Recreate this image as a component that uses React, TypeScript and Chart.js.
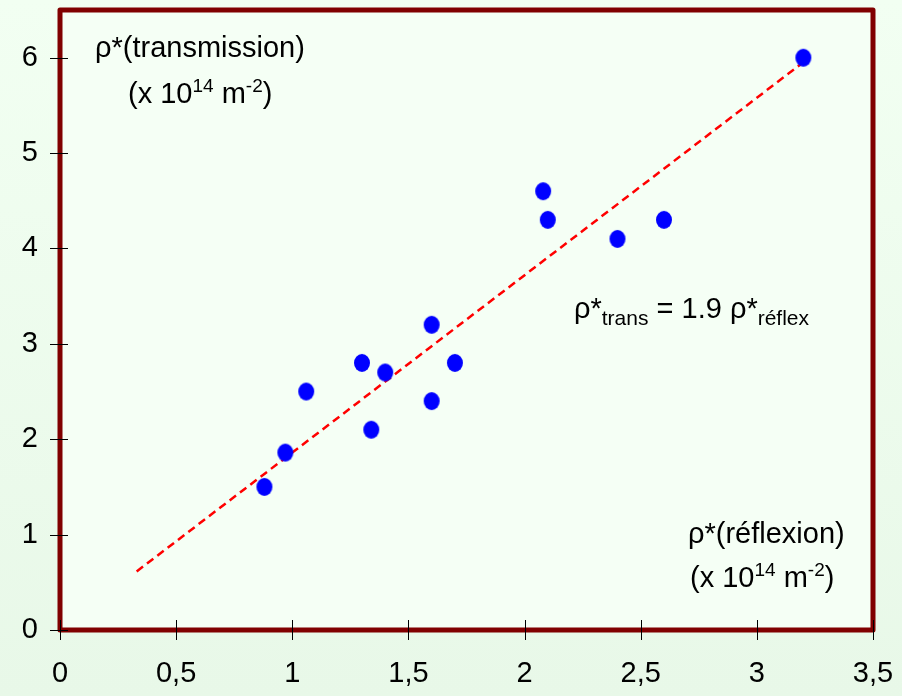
import React, { useEffect, useRef } from "react";
import { Chart, registerables } from "chart.js";

Chart.register(...registerables);

// Dislocation density: reflection (x) vs transmission (y), units 1e14 m^-2
const reflexion = [0.88, 0.97, 1.06, 1.3, 1.34, 1.4, 1.6, 1.6, 1.7, 2.08, 2.1, 2.4, 2.6, 3.2];
const transmission = [1.5, 1.86, 2.5, 2.8, 2.1, 2.7, 3.2, 2.4, 2.8, 4.6, 4.3, 4.1, 4.3, 6.0];

// Fitted proportional line y = slope * x, drawn across this x range
const fitSlope = 1.86;
const fitRange = [0.33, 3.2];

const xTicks = [0, 0.5, 1, 1.5, 2, 2.5, 3, 3.5];
const yTicks = [0, 1, 2, 3, 4, 5, 6];

const FONT = '"Liberation Sans", Arial, sans-serif';

type Run = { t: string; size: number; dy?: number };

function drawRuns(ctx: CanvasRenderingContext2D, runs: Run[], x: number, y: number) {
  let cx = x;
  for (const r of runs) {
    ctx.font = `${r.size}px ${FONT}`;
    ctx.fillText(r.t, cx, y + (r.dy || 0));
    cx += ctx.measureText(r.t).width;
  }
}

// slightly tall oval marker
function makeMarker(): HTMLCanvasElement {
  const c = document.createElement("canvas");
  c.width = 18;
  c.height = 20;
  const g = c.getContext("2d")!;
  g.fillStyle = "#0000ff";
  g.beginPath();
  g.ellipse(9, 10, 8, 9, 0, 0, Math.PI * 2);
  g.fill();
  return c;
}

const decorPlugin = {
  id: "decor",
  beforeDraw(chart: any) {
    const { ctx, chartArea: a, width, height } = chart;
    ctx.save();
    const g = ctx.createLinearGradient(0, 0, 0, height);
    g.addColorStop(0, "#f2fff2");
    g.addColorStop(1, "#e8f8e8");
    ctx.fillStyle = g;
    ctx.fillRect(0, 0, width, height);
    ctx.fillStyle = "#ffffff";
    ctx.fillRect(902, 0, width - 902, height);
    ctx.fillStyle = "#f5fff5";
    ctx.fillRect(a.left, a.top, a.right - a.left, a.bottom - a.top);
    ctx.restore();
  },
  afterDatasetsDraw(chart: any) {
    const { ctx, chartArea: a, scales } = chart;
    ctx.save();
    // frame
    ctx.strokeStyle = "#800000";
    ctx.lineWidth = 5;
    ctx.lineJoin = "round";
    ctx.strokeRect(a.left, a.top, a.right - a.left, a.bottom - a.top);
    // tick marks crossing the frame
    ctx.strokeStyle = "#000000";
    ctx.lineWidth = 1;
    ctx.beginPath();
    for (const v of xTicks) {
      const px = Math.round(scales.x.getPixelForValue(v)) + 0.5;
      ctx.moveTo(px, a.bottom - 10);
      ctx.lineTo(px, a.bottom + 10);
    }
    for (const v of yTicks) {
      const py = Math.round(scales.y.getPixelForValue(v)) + 0.5;
      ctx.moveTo(a.left - 10, py);
      ctx.lineTo(a.left + 8, py);
    }
    ctx.stroke();

    // annotations
    ctx.fillStyle = "#000000";
    ctx.textBaseline = "alphabetic";
    ctx.textAlign = "left";
    drawRuns(ctx, [{ t: "ρ*(transmission)", size: 29 }], 95, 57);
    drawRuns(
      ctx,
      [
        { t: "(x 10", size: 29 },
        { t: "14", size: 19, dy: -11 },
        { t: " m", size: 29 },
        { t: "-2", size: 19, dy: -11 },
        { t: ")", size: 29 },
      ],
      128,
      103
    );
    drawRuns(
      ctx,
      [
        { t: "ρ*", size: 29 },
        { t: "trans", size: 21, dy: 7 },
        { t: ` = ${fitSlope.toFixed(1)} ρ*`, size: 29 },
        { t: "réflex", size: 21, dy: 7 },
      ],
      574,
      318
    );
    drawRuns(ctx, [{ t: "ρ*(réflexion)", size: 29 }], 688, 543);
    drawRuns(
      ctx,
      [
        { t: "(x 10", size: 29 },
        { t: "14", size: 19, dy: -11 },
        { t: " m", size: 29 },
        { t: "-2", size: 19, dy: -11 },
        { t: ")", size: 29 },
      ],
      690,
      587
    );
    ctx.restore();
  },
};

export default function App() {
  const ref = useRef<HTMLCanvasElement>(null);

  useEffect(() => {
    document.body.style.margin = "0";
    const points = reflexion.map((x, i) => ({ x, y: transmission[i] }));
    const fit = fitRange.map((x) => ({ x, y: fitSlope * x }));
    const marker = makeMarker();
    const chart = new Chart(ref.current!, {
      type: "scatter",
      data: {
        datasets: [
          {
            data: points,
            backgroundColor: "#0000ff",
            borderColor: "#0000ff",
            pointStyle: marker as any,
            pointRadius: 9,
            pointHoverRadius: 9,
            order: 0,
          },
          {
            type: "line",
            data: fit,
            borderColor: "#ff0000",
            borderWidth: 2.5,
            borderDash: [8, 5],
            pointRadius: 0,
            fill: false,
            order: 1,
          } as any,
        ],
      },
      options: {
        animation: false,
        responsive: false,
        events: [],
        layout: { padding: { top: 10, right: 42, left: 0, bottom: 0 } },
        plugins: { legend: { display: false }, tooltip: { enabled: false } },
        scales: {
          x: {
            type: "linear",
            min: 0,
            max: 3.5,
            grid: { display: false, drawTicks: false },
            border: { display: false },
            afterBuildTicks: (s: any) => {
              s.ticks = xTicks.map((v) => ({ value: v }));
            },
            afterFit: (s: any) => {
              s.height = 66;
              s.paddingLeft = 0;
              s.paddingRight = 0;
            },
            ticks: {
              padding: 27,
              color: "#000000",
              font: { family: FONT, size: 29 },
              maxRotation: 0,
              callback: (v: any) => String(v).replace(".", ","),
            },
          },
          y: {
            type: "linear",
            min: 0,
            max: 6.5,
            grid: { display: false, drawTicks: false },
            border: { display: false },
            afterBuildTicks: (s: any) => {
              s.ticks = yTicks.map((v) => ({ value: v }));
            },
            afterFit: (s: any) => {
              s.width = 60;
              s.paddingTop = 0;
              s.paddingBottom = 0;
            },
            ticks: {
              padding: 22,
              color: "#000000",
              font: { family: FONT, size: 29 },
              callback: (v: any) => String(v),
            },
          },
        },
      },
      plugins: [decorPlugin],
    });
    return () => chart.destroy();
  }, []);

  return <canvas ref={ref} width={915} height={696} style={{ display: "block" }} />;
}
